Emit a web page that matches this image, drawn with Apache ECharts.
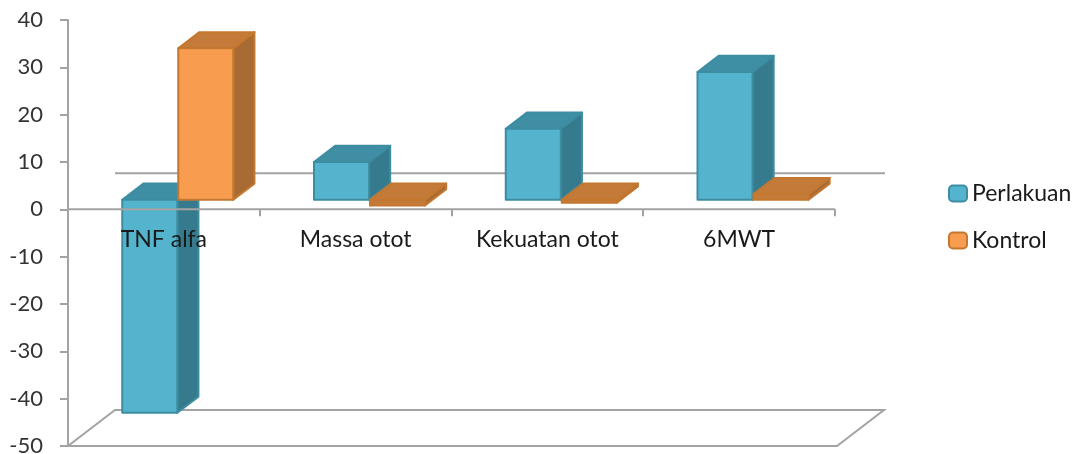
<!DOCTYPE html>
<html>
<head>
    <meta charset="utf-8">
    <title>Perlakuan vs Kontrol</title>
    <script src="https://cdn.jsdelivr.net/npm/echarts@6/dist/echarts.min.js"></script>
    <style>
        html, body { margin: 0; padding: 0; background: #fff; }
        #grafik { width: 1074px; height: 454px; }
    </style>
</head>
<body>
<div id="grafik"></div>
<script>
    // data
    let kategori = ['TNF alfa', 'Massa otot', 'Kekuatan otot', '6MWT'];
    let perlakuan = [-45, 8, 15, 27];
    let kontrol = [32, -1.2, -0.6, 1.2];
    let ejeYMin = -50, ejeYMax = 40, ejeYIntervalo = 10;

    let fuente = 'Lato, "Liberation Sans", sans-serif';
    let gris = '#a3a3a3';

    // desplazamiento de profundidad (proyeccion oblicua)
    let profX = 47, profY = -36;
    let frenteD = 0.265, fondoD = 0.715;

    function barra3d(desde, colores) {
        return function (params, api) {
            let i = api.value(0), v = api.value(1);
            let cero = api.coord([i, 0]);
            let tope = api.coord([i, v]);
            let bw = api.size([1, 0])[0];
            let w = bw * 0.287;
            let sx = profX * frenteD, sy = profY * frenteD;
            let dx = profX * (fondoD - frenteD), dy = profY * (fondoD - frenteD);
            let x0 = cero[0] + desde * bw + sx;
            let x1 = x0 + w;
            let y0 = cero[1] + sy, yv = tope[1] + sy;
            let yA = Math.min(y0, yv), yB = Math.max(y0, yv);
            let borde = { stroke: colores.borde, lineWidth: 2, lineJoin: 'round' };
            // barras muy bajas: el frente casi no se ve, queda del color del borde
            let frente = (yB - yA) < 8 ? colores.arriba : colores.frente;
            return {
                type: 'group',
                children: [
                    {
                        type: 'polygon',
                        shape: { points: [[x1, yA], [x1 + dx, yA + dy], [x1 + dx, yB + dy], [x1, yB]] },
                        style: Object.assign({ fill: colores.lado }, borde)
                    },
                    {
                        type: 'polygon',
                        shape: { points: [[x0, yA], [x0 + dx, yA + dy], [x1 + dx, yA + dy], [x1, yA]] },
                        style: Object.assign({ fill: colores.arriba }, borde)
                    },
                    {
                        type: 'rect',
                        shape: { x: x0, y: yA, width: w, height: yB - yA },
                        style: Object.assign({ fill: frente }, borde)
                    }
                ]
            };
        };
    }

    // piso 3D: linea trasera en 0 y el piso en el minimo
    function piso(params, api) {
        let cs = params.coordSys;
        let izq = cs.x, der = cs.x + cs.width;
        let y0 = api.coord([0, 0])[1];
        let yMin = api.coord([0, ejeYMin])[1];
        let linea = { stroke: gris, lineWidth: 2, fill: null };
        return {
            type: 'group',
            children: [
                {
                    type: 'polyline',
                    shape: { points: [[izq + profX, y0 + profY], [der + profX + 3, y0 + profY]] },
                    style: linea
                },
                {
                    type: 'polygon',
                    shape: { points: [[izq, yMin], [der + 2, yMin], [der + 2 + profX, yMin + profY], [izq + profX, yMin + profY]] },
                    style: linea
                }
            ]
        };
    }

    // eje de categorias en el cero, encima de las barras
    function ejeCero(params, api) {
        let cs = params.coordSys;
        let y0 = api.coord([0, 0])[1];
        let bw = api.size([1, 0])[0];
        let linea = { stroke: gris, lineWidth: 2, fill: null };
        let hijos = [{
            type: 'line',
            shape: { x1: cs.x, y1: y0, x2: cs.x + cs.width, y2: y0 },
            style: linea
        }];
        for (let k = 1; k <= kategori.length; k++) {
            let x = Math.round(cs.x + k * bw);
            hijos.push({ type: 'line', shape: { x1: x, y1: y0, x2: x, y2: y0 + 7 }, style: linea });
        }
        return { type: 'group', children: hijos };
    }

    let azul = { frente: '#55b4cd', lado: '#367b8d', arriba: '#3f8ea3', borde: '#3d8da2' };
    let naranja = { frente: '#f89c50', lado: '#a86b33', arriba: '#c47a38', borde: '#c4772f' };

    let chart = echarts.init(document.getElementById('grafik'));
    let option = {
        animation: false,
        grid: { left: 68, right: 239, top: 20, bottom: 8, containLabel: false, outerBoundsMode: 'none' },
        legend: {
            orient: 'vertical',
            left: 943,
            top: 177,
            itemWidth: 18,
            itemHeight: 16,
            itemGap: 24,
            icon: 'roundRect',
            textStyle: { fontFamily: fuente, fontSize: 23, color: '#1a1a1a' },
            data: [
                { name: 'Perlakuan', itemStyle: { color: azul.frente, borderColor: azul.borde, borderWidth: 2 } },
                { name: 'Kontrol', itemStyle: { color: naranja.frente, borderColor: naranja.borde, borderWidth: 2 } }
            ]
        },
        xAxis: {
            type: 'category',
            data: kategori,
            z: 10,
            position: 'bottom',
            axisLine: { show: false, onZero: false },
            axisTick: { show: false },
            // etiquetas subidas hasta la linea del cero
            axisLabel: { fontFamily: fuente, fontSize: 23, color: '#1a1a1a', margin: -218 },
            splitLine: { show: false }
        },
        yAxis: {
            type: 'value',
            min: ejeYMin,
            max: ejeYMax,
            interval: ejeYIntervalo,
            axisLine: { show: true, lineStyle: { color: gris, width: 2 } },
            axisTick: { show: true, length: 8, lineStyle: { color: gris, width: 2 } },
            axisLabel: { fontFamily: fuente, fontSize: 22, color: '#333333', margin: 25 },
            splitLine: { show: false }
        },
        series: [
            {
                type: 'custom',
                name: 'piso',
                renderItem: piso,
                data: [[0, ejeYMin]],
                z: 1,
                silent: true
            },
            {
                type: 'custom',
                name: 'Perlakuan',
                renderItem: barra3d(-0.282, azul),
                itemStyle: { color: azul.frente, borderColor: azul.borde },
                data: perlakuan.map(function (v, i) { return [i, v]; }),
                z: 2
            },
            {
                type: 'custom',
                name: 'Kontrol',
                renderItem: barra3d(0.01, naranja),
                itemStyle: { color: naranja.frente, borderColor: naranja.borde },
                data: kontrol.map(function (v, i) { return [i, v]; }),
                z: 3
            },
            {
                type: 'custom',
                name: 'eje',
                renderItem: ejeCero,
                data: [[0, 0]],
                z: 5,
                silent: true
            }
        ]
    };
    chart.setOption(option);
</script>
</body>
</html>
